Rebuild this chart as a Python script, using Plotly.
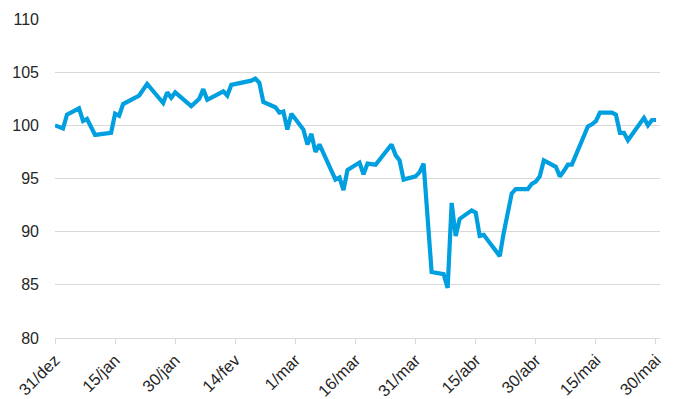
import plotly.graph_objects as go

dates = [
    "2018-12-31", "2019-01-02", "2019-01-03", "2019-01-06", "2019-01-07", "2019-01-08",
    "2019-01-10", "2019-01-14", "2019-01-15", "2019-01-16", "2019-01-17", "2019-01-21",
    "2019-01-23", "2019-01-27", "2019-01-28", "2019-01-29", "2019-01-30", "2019-02-03",
    "2019-02-05", "2019-02-06", "2019-02-07", "2019-02-11", "2019-02-12", "2019-02-13",
    "2019-02-18", "2019-02-19", "2019-02-20", "2019-02-21", "2019-02-24", "2019-02-25",
    "2019-02-26", "2019-02-27", "2019-02-28", "2019-03-03", "2019-03-04", "2019-03-05",
    "2019-03-06", "2019-03-07", "2019-03-11", "2019-03-12", "2019-03-13", "2019-03-14",
    "2019-03-17", "2019-03-18", "2019-03-19", "2019-03-21", "2019-03-25", "2019-03-26",
    "2019-03-27", "2019-03-28", "2019-03-31", "2019-04-01", "2019-04-02", "2019-04-04",
    "2019-04-07", "2019-04-08", "2019-04-09", "2019-04-10", "2019-04-11", "2019-04-13",
    "2019-04-14", "2019-04-15", "2019-04-16", "2019-04-17", "2019-04-21", "2019-04-22",
    "2019-04-24", "2019-04-25", "2019-04-28", "2019-04-29", "2019-04-30", "2019-05-01",
    "2019-05-02", "2019-05-05", "2019-05-06", "2019-05-07", "2019-05-08", "2019-05-09",
    "2019-05-13", "2019-05-14", "2019-05-15", "2019-05-16", "2019-05-19", "2019-05-20",
    "2019-05-21", "2019-05-22", "2019-05-23", "2019-05-27", "2019-05-28", "2019-05-29",
    "2019-05-30",
]

values = [
    100.0, 99.7, 101.0, 101.6, 100.4, 100.6,
    99.1, 99.3, 101.1, 100.9, 102.0, 102.8,
    103.9, 102.1, 103.1, 102.6, 103.1, 101.8,
    102.5, 103.4, 102.4, 103.2, 102.8, 103.8,
    104.2, 104.4, 104.0, 102.2, 101.7, 101.2,
    101.3, 99.6, 101.1, 99.6, 98.2, 99.2,
    97.5, 98.2, 94.9, 95.1, 93.9, 95.8,
    96.5, 95.4, 96.4, 96.3, 98.2, 97.2,
    96.7, 94.9, 95.2, 95.6, 96.4, 86.2,
    86.0, 84.7, 92.7, 89.6, 91.2, 91.7,
    92.0, 91.8, 89.6, 89.7, 87.7, 89.9,
    93.6, 94.0, 94.0, 94.5, 94.7, 95.2,
    96.7, 96.1, 95.2, 95.7, 96.3, 96.3,
    99.9, 100.1, 100.4, 101.2, 101.2, 101.0,
    99.3, 99.3, 98.6, 100.7, 100.0, 100.5,
    100.5,
]

tick_dates = ["2018-12-31", "2019-01-15", "2019-01-30", "2019-02-14", "2019-03-01",
              "2019-03-16", "2019-03-31", "2019-04-15", "2019-04-30", "2019-05-15",
              "2019-05-30"]
tick_labels = ["31/dez", "15/jan", "30/jan", "14/fev", "1/mar", "16/mar",
               "31/mar", "15/abr", "30/abr", "15/mai", "30/mai"]
y_ticks = [80, 85, 90, 95, 100, 105, 110]

fig = go.Figure()
fig.add_trace(go.Scatter(
    x=dates, y=values, mode="lines",
    line=dict(color="#009FDF", width=4.2),
    hoverinfo="x+y",
))

fig.update_layout(
    width=673, height=399,
    margin=dict(l=55, r=13, t=19, b=61, autoexpand=False),
    paper_bgcolor="white", plot_bgcolor="white",
    showlegend=False,
    font=dict(family="Liberation Sans, Arial, sans-serif", size=16, color="#262626"),
)
fig.update_xaxes(
    type="date",
    automargin=False,
    range=["2018-12-31", "2019-05-31"],
    tickmode="array", tickvals=tick_dates, ticktext=tick_labels,
    tickangle=-45,
    showgrid=False,
    showline=True, linecolor="#d9d9d9", linewidth=1,
    ticks="outside", ticklen=5, tickcolor="#d9d9d9", tickwidth=1,
    tickfont=dict(size=16.5),
    zeroline=False,
)
fig.update_yaxes(
    automargin=False,
    range=[80, 110],
    tickmode="array", tickvals=y_ticks,
    showgrid=True, gridcolor="#d9d9d9", gridwidth=1,
    zeroline=False, showline=False, ticks="",
    ticklabelstandoff=15,
    tickfont=dict(size=16),
)

fig.write_html("out.html")
